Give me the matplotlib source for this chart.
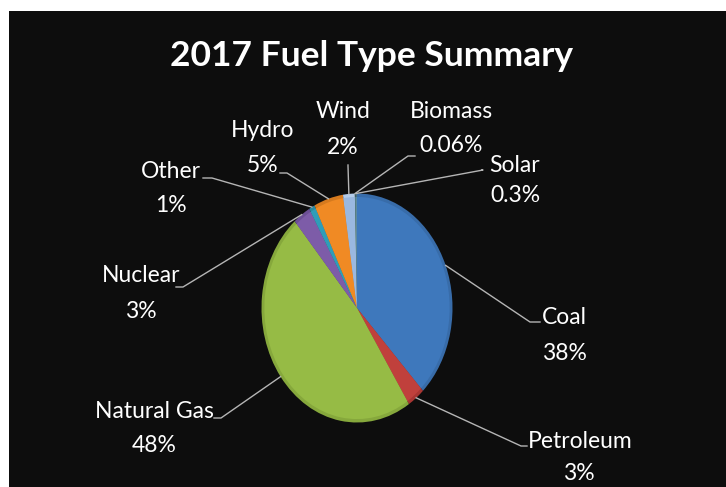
import numpy as np
import matplotlib
matplotlib.use("Agg")
import matplotlib.pyplot as plt
from matplotlib.lines import Line2D
from matplotlib.patches import Rectangle

plt.rcParams['font.family'] = ['Lato', 'DejaVu Sans']

W, H = 726, 487

fuels = ['Coal', 'Petroleum', 'Natural Gas', 'Nuclear', 'Other', 'Hydro', 'Wind', 'Biomass', 'Solar']
shares = [38, 3, 48, 3, 1, 5, 2, 0.06, 0.3]
share_labels = ['38%', '3%', '48%', '3%', '1%', '5%', '2%', '0.06%', '0.3%']
colors = ['#3E78BC', '#C0403C', '#96BB45', '#7D5CA8', '#2F9DB8', '#F08A24', '#9AB8E0', '#5E7F3A', '#5D8AA0']
edges = ['#386CA9', '#A83633', '#86A83C', '#6C4F95', '#2A8AA2', '#D67A1E', '#B4CCEA', '#4A6630', '#49707F']

# label centre (name line, value line) and leader elbow, in pixels from the top left
name_xy = [(564, 318), (580, 441), (154, 411), (141, 276), (171, 172), (263, 130), (343, 112), (451, 112), (515, 166)]
value_xy = [(564, 354), (579, 474), (154, 445), (141, 311), (171, 206), (263, 165), (343, 147), (451, 146), (515, 195)]
leader_xy = [
    [(540, 322), (530, 322)],
    [(527, 446), (521, 446)],
    [(214, 418), (221, 418)],
    [(176, 287), (183, 287)],
    [(203, 178), (212, 178)],
    [(280, 173), (287, 173)],
    [(348, 165), (348, 166)],
    [(415, 156), (408, 156)],
    [(482, 170), (483, 170)],
]


def px(x, y):
    return x / W, 1 - y / H


fig = plt.figure(figsize=(W / 100, H / 100), dpi=100, facecolor='white')
fig.add_artist(Rectangle(px(9, H), (W - 9) / W, (H - 11) / H, transform=fig.transFigure,
                         facecolor='#0D0D0D', edgecolor='none', zorder=-1))

# pie is a tall ellipse, centre (357, 308), half axes 95.5 x 114.5 px
left, bottom = px(357 - 95.5, 308 + 114.5)
ax = fig.add_axes([left, bottom, 191 / W, 229 / H])
ax.pie(shares, colors=edges, startangle=90, counterclock=False, radius=1,
       wedgeprops={'linewidth': 0})
wedges, _ = ax.pie(shares, colors=colors, startangle=90, counterclock=False, radius=0.97,
                   wedgeprops={'linewidth': 0})
ax.set_aspect('auto')
ax.set_xlim(-1, 1)
ax.set_ylim(-1, 1)

to_fig = ax.transData + fig.transFigure.inverted()

for i, w in enumerate(wedges):
    ang = np.deg2rad((w.theta1 + w.theta2) / 2)
    tip = to_fig.transform((np.cos(ang), np.sin(ang)))
    xs = [tip[0]]
    ys = [tip[1]]
    for p in reversed(leader_xy[i]):
        q = px(*p)
        xs.append(q[0])
        ys.append(q[1])
    fig.add_artist(Line2D(xs, ys, color='#B5B5B5', lw=1.0, transform=fig.transFigure))
    fig.text(*px(*name_xy[i]), fuels[i], color='white', fontsize=16.5, ha='center', va='center')
    fig.text(*px(*value_xy[i]), share_labels[i], color='white', fontsize=16.5, ha='center', va='center')

fig.text(*px(371, 56), '2017 Fuel Type Summary', color='white', fontsize=25.5, fontweight='bold',
         ha='center', va='center')

fig.savefig('out.png', dpi=100)
